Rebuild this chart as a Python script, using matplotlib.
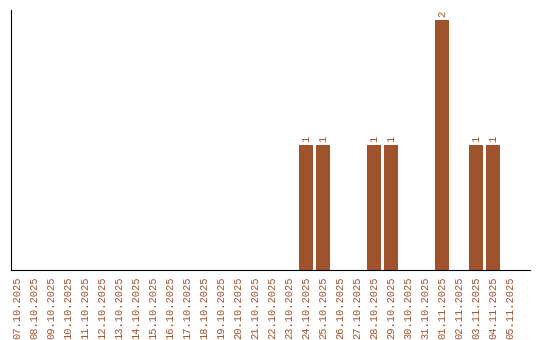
import matplotlib
matplotlib.use("Agg")
import matplotlib.pyplot as plt
from datetime import date, timedelta

# one label per day, 07.10.2025 .. 05.11.2025
start = date(2025, 10, 7)
days = [(start + timedelta(days=i)).strftime("%d.%m.%Y") for i in range(30)]

counts = {
    "24.10.2025": 1,
    "25.10.2025": 1,
    "28.10.2025": 1,
    "29.10.2025": 1,
    "01.11.2025": 2,
    "03.11.2025": 1,
    "04.11.2025": 1,
}
values = [counts.get(d, 0) for d in days]

bar_color = "#a0522d"
mono = ["Liberation Mono", "DejaVu Sans Mono"]

fig = plt.figure(figsize=(5.4, 3.4), dpi=100)
ax = fig.add_axes([0.0204, 0.2059, 0.9611, 0.7647])

x = list(range(len(days)))
bars = ax.bar(x, values, width=0.82, color=bar_color)

for rect, v in zip(bars, values):
    if v > 0:
        ax.text(rect.get_x() + rect.get_width() / 2, v + 0.02, str(v),
                rotation=90, ha="center", va="bottom", fontsize=7.5,
                family=mono, color=bar_color)

ax.set_xlim(-0.35, 30.18)
ax.set_ylim(0, 2.08)
ax.set_xticks(x)
ax.set_xticklabels(days, rotation=90, fontsize=7.5, family=mono,
                   color=bar_color)
ax.tick_params(axis="x", length=0, pad=5)
ax.set_yticks([])

ax.spines["top"].set_visible(False)
ax.spines["right"].set_visible(False)

fig.savefig("out.png", dpi=100)
